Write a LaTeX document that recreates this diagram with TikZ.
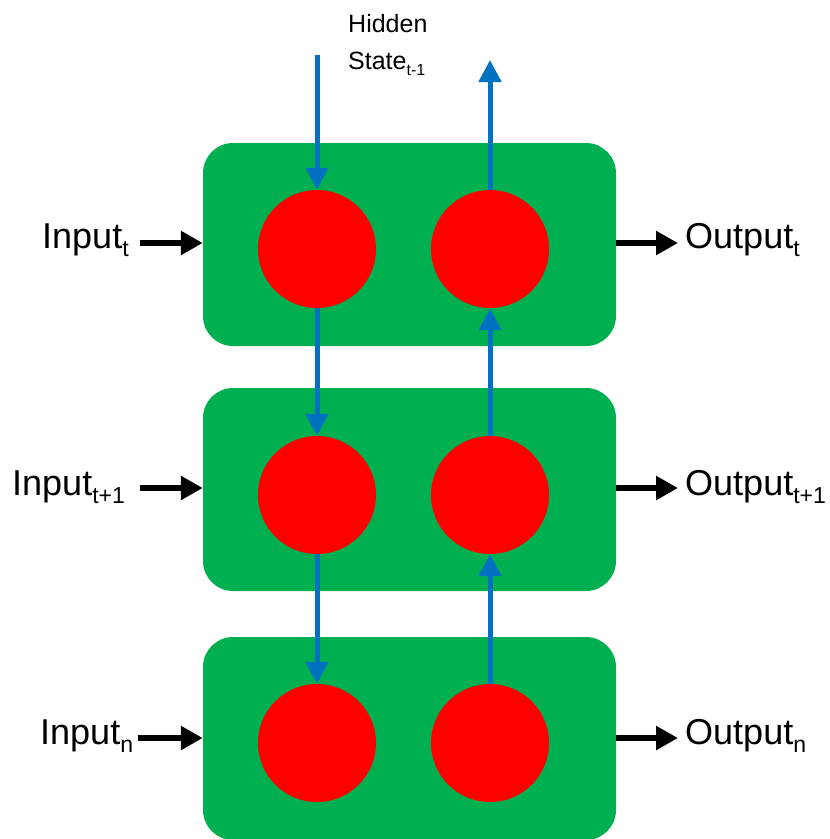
\documentclass[tikz,border=0pt]{standalone}
\usepackage{fontspec}
\setmainfont{Liberation Sans}
\usetikzlibrary{arrows.meta}
\definecolor{cellgreen}{HTML}{00B050}
\definecolor{unitred}{HTML}{FF0000}
\definecolor{flowblue}{HTML}{0070C0}
% lowered, smaller index text
\newcommand\subtxt[1]{\raisebox{-0.24em}{\scalebox{0.64}{#1}}}
\begin{document}
\begin{tikzpicture}[x=1pt,y=-1pt,
  cellbox/.style={rectangle,rounded corners=30pt,fill=cellgreen,draw=none,
    minimum width=413pt,minimum height=203pt,inner sep=0pt},
  unit/.style={circle,fill=unitred,draw=none,minimum size=118pt,inner sep=0pt},
  flow/.style={draw=flowblue,line width=5pt,-{Triangle[length=22pt,width=22pt]}},
  io/.style={draw=black,line width=5.5pt,-{Triangle[length=22pt,width=23pt]}},
  lbl/.style={inner sep=0pt,anchor=base west,font=\fontsize{36}{40}\selectfont},
]
\clip (0,0) rectangle (830,839);

% three stacked cells
\node[cellbox] (b1) at (409.5,244.5) {};
\node[cellbox] (b2) at (409.5,489.5) {};
\node[cellbox] (b3) at (409.5,738.5) {};

% units inside each cell
\node[unit] (l1) at (317,249) {};
\node[unit] (r1) at (490,249) {};
\node[unit] (l2) at (317,495) {};
\node[unit] (r2) at (490,495) {};
\node[unit] (l3) at (317,743) {};
\node[unit] (r3) at (490,743) {};

% hidden state flow
\coordinate (hin) at (317,55);
\coordinate (hout) at (490,60);
\draw[flow] (hin) -- (l1.north);
\draw[flow] (r1.north) -- (hout);
\draw[flow] (l1.south) -- (l2.north);
\draw[flow] (r2.north) -- (r1.south);
\draw[flow] (l2.south) -- (l3.north);
\draw[flow] (r3.north) -- (r2.south);

\node[inner sep=0pt,anchor=north west,align=left,font=\fontsize{25}{37}\selectfont]
  (hs) at (348,14) {Hidden\\State\subtxt{t-1}};

% inputs
\node[lbl] (in1) at (42,248) {Input\subtxt{t}};
\node[lbl] (in2) at (12,495) {Input\subtxt{t+1}};
\node[lbl] (in3) at (40,744) {Input\subtxt{n}};
\coordinate (a1) at (140,243);
\coordinate (a2) at (140,488);
\coordinate (a3) at (138,738);
\draw[io] (a1) -- (a1 -| b1.west);
\draw[io] (a2) -- (a2 -| b2.west);
\draw[io] (a3) -- (a3 -| b3.west);

% outputs
\node[lbl] (out1) at (685,248) {Output\subtxt{t}};
\node[lbl] (out2) at (685,495) {Output\subtxt{t+1}};
\node[lbl] (out3) at (685,744) {Output\subtxt{n}};
\coordinate (e1) at (678,243);
\coordinate (e2) at (678,488);
\coordinate (e3) at (678,738);
\draw[io] (e1 -| b1.east) -- (e1);
\draw[io] (e2 -| b2.east) -- (e2);
\draw[io] (e3 -| b3.east) -- (e3);
\end{tikzpicture}
\end{document}
